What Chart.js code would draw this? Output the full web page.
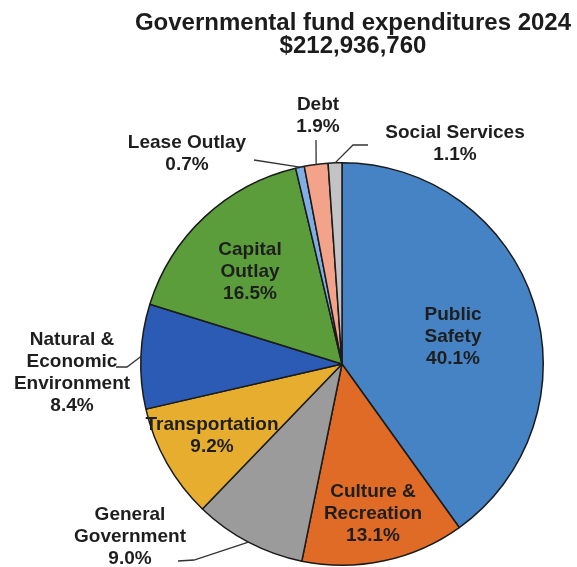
<!DOCTYPE html>
<html>
<head>
<meta charset="utf-8">
<title>Governmental fund expenditures 2024</title>
<script src="https://cdn.jsdelivr.net/npm/chart.js@4/dist/chart.umd.min.js"></script>
<style>
  html, body { margin: 0; padding: 0; background: #fff; }
  #wrap { width: 577px; height: 567px; }
</style>
</head>
<body>
<div id="wrap"><canvas id="expChart" width="577" height="567"></canvas></div>
<script>
// categories clockwise from 12 o'clock
const categories = [
  'Public Safety',
  'Culture & Recreation',
  'General Government',
  'Transportation',
  'Natural & Economic Environment',
  'Capital Outlay',
  'Lease Outlay',
  'Debt',
  'Social Services',
];
const shares = [40.1, 13.1, 9.0, 9.2, 8.4, 16.5, 0.7, 1.9, 1.1];
const sliceColors = [
  '#4583c4', '#df6b26', '#9b9b9b', '#e7ad2f', '#2b5bb4',
  '#5b9d3b', '#80aee4', '#f2a389', '#c3c3c3',
];
const labelLines = [
  ['Public', 'Safety'],
  ['Culture &', 'Recreation'],
  ['General', 'Government'],
  ['Transportation'],
  ['Natural &', 'Economic', 'Environment'],
  ['Capital', 'Outlay'],
  ['Lease Outlay'],
  ['Debt'],
  ['Social Services'],
];
const titleLines = ['Governmental fund expenditures 2024', '$212,936,760'];

// where each label block is centred (first line), and leader elbows for outside ones
const labelSpots = [
  { x: 453, y: 315 },
  { x: 373, y: 492 },
  { x: 130, y: 515, leader: [[178, 561], [194, 560]] },
  { x: 212, y: 425 },
  { x: 72, y: 340, leader: [[116, 367], [127, 367]] },
  { x: 250, y: 250 },
  { x: 187, y: 143, leader: [[254, 160]] },
  { x: 318, y: 105, leader: [[316, 140]] },
  { x: 455, y: 133, leader: [[368, 145], [353, 145]] },
];

const FONT = '"Liberation Sans", Arial, sans-serif';
const LINE_H = 22;

const labelPlugin = {
  id: 'sliceLabels',
  afterDatasetsDraw(chart) {
    const ctx = chart.ctx;
    const arcs = chart.getDatasetMeta(0).data;

    ctx.save();
    // title
    ctx.fillStyle = '#1c1c1c';
    ctx.textAlign = 'center';
    ctx.textBaseline = 'alphabetic';
    ctx.font = 'bold 24px ' + FONT;
    ctx.fillText(titleLines[0], 353, 30);
    ctx.fillText(titleLines[1], 353, 53);

    // leader lines run from the elbow points to the slice rim
    ctx.strokeStyle = '#333';
    ctx.lineWidth = 1.3;
    arcs.forEach((arc, i) => {
      const spot = labelSpots[i];
      if (!spot.leader) return;
      const p = arc.getProps(['x', 'y', 'startAngle', 'endAngle', 'outerRadius'], true);
      const mid = (p.startAngle + p.endAngle) / 2;
      const ex = p.x + Math.cos(mid) * p.outerRadius;
      const ey = p.y + Math.sin(mid) * p.outerRadius;
      ctx.beginPath();
      ctx.moveTo(spot.leader[0][0], spot.leader[0][1]);
      spot.leader.slice(1).forEach(([lx, ly]) => ctx.lineTo(lx, ly));
      ctx.lineTo(ex, ey);
      ctx.stroke();
    });

    // label text plus share
    ctx.font = 'bold 19px ' + FONT;
    ctx.textBaseline = 'middle';
    ctx.fillStyle = '#1e1e1e';
    arcs.forEach((arc, i) => {
      const spot = labelSpots[i];
      const lines = labelLines[i].concat(shares[i].toFixed(1) + '%');
      lines.forEach((txt, k) => {
        ctx.fillText(txt, spot.x, spot.y + k * LINE_H);
      });
    });
    ctx.restore();
  },
};

new Chart(document.getElementById('expChart'), {
  type: 'pie',
  data: {
    labels: categories,
    datasets: [
      {
        data: shares,
        backgroundColor: sliceColors,
        borderColor: '#1b1b1b',
        borderWidth: 1.5,
      },
    ],
  },
  options: {
    responsive: false,
    animation: false,
    layout: {
      padding: { left: 140, right: 33, top: 162, bottom: 1 },
    },
    plugins: {
      legend: { display: false },
      tooltip: { enabled: false },
    },
  },
  plugins: [labelPlugin],
});
</script>
</body>
</html>
